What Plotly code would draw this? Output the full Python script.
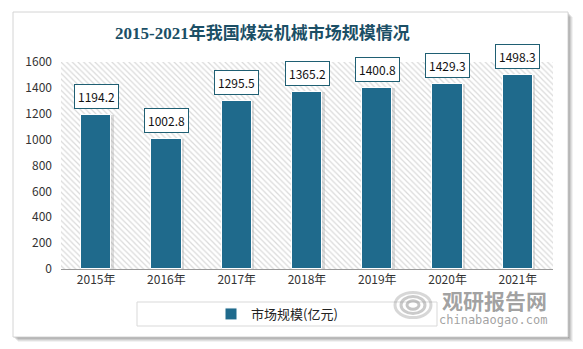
import plotly.graph_objects as go

# Data
years = ["2015年", "2016年", "2017年", "2018年", "2019年", "2020年", "2021年"]
market_size = [1194.2, 1002.8, 1295.5, 1365.2, 1400.8, 1429.3, 1498.3]
y_ticks = [0, 200, 400, 600, 800, 1000, 1200, 1400, 1600]
series_name = "市场规模(亿元)"
title_text = "2015-2021年我国煤炭机械市场规模情况"

W, H = 583, 349
L, R, T, B = 61, 30, 62, 80
PW, PH = W - L - R, H - T - B

def px_x(px):
    return (px - L) / PW

def px_y(py):
    return (H - B - py) / PH

BAR = "#1F6A8C"
FONT = "Noto Sans CJK SC, DejaVu Sans, sans-serif"

fig = go.Figure()

# hatched backdrop across the plotting area
fig.add_trace(go.Bar(
    x=[years[3]], y=[y_ticks[-1]], width=[len(years)],
    marker=dict(color="white", line=dict(width=0),
                pattern=dict(shape="\\", fgcolor="#B5B5B5", bgcolor="white",
                             size=4, solidity=0.3)),
    hoverinfo="skip", showlegend=False,
))

# soft shadow to the lower right of each bar
fig.add_trace(go.Bar(
    x=years, y=market_size, width=0.45, offset=-0.2,
    marker=dict(color="rgba(160,160,160,0.35)", line=dict(width=0)),
    hoverinfo="skip", showlegend=False,
))

fig.add_trace(go.Bar(
    x=years, y=market_size, width=0.43, name=series_name,
    marker=dict(color=BAR, line=dict(color="white", width=1)),
))

annotations = []
# value boxes above bars
for yr, v in zip(years, market_size):
    annotations.append(dict(
        x=yr, y=v, text=f"{v:.1f}", showarrow=False, yanchor="bottom",
        yshift=6, font=dict(family=FONT, size=12, color="#111111"),
        bgcolor="white", bordercolor="#1F5F73", borderwidth=1, borderpad=3,
    ))

annotations += [
    dict(text=f"<b>{title_text}</b>", xref="paper", yref="paper",
         x=px_x(262), y=px_y(33), showarrow=False, xanchor="center", yanchor="middle",
         font=dict(family="Liberation Serif, Noto Sans CJK SC, serif", size=17, color="#1B4F66")),
    dict(text="<b>观研报告网</b>", xref="paper", yref="paper",
         x=px_x(494), y=px_y(300), showarrow=False, xanchor="center", yanchor="middle",
         font=dict(family=FONT, size=21, color="rgba(120,120,120,0.7)")),
    dict(text="chinabaogao.com", xref="paper", yref="paper",
         x=px_x(493), y=px_y(320), showarrow=False, xanchor="center", yanchor="middle",
         font=dict(family="DejaVu Sans Mono, monospace", size=12, color="rgba(120,120,120,0.7)")),
]

shapes = []
# card shadow
for i, a in enumerate([0.10, 0.10, 0.09, 0.07, 0.05]):
    o = i + 1
    shapes.append(dict(type="rect", xref="paper", yref="paper", layer="below",
                       x0=px_x(13 + o), x1=px_x(568 + o), y0=px_y(337 + o), y1=px_y(12 + o),
                       line=dict(width=0), fillcolor=f"rgba(0,0,0,{a})"))
shapes.append(dict(type="rect", xref="paper", yref="paper", layer="below",
                   x0=px_x(13), x1=px_x(568), y0=px_y(337), y1=px_y(12),
                   line=dict(color="#D4D4D4", width=1), fillcolor="white"))
# legend frame
shapes.append(dict(type="rect", xref="paper", yref="paper", layer="below",
                   x0=px_x(137), x1=px_x(437), y0=px_y(326), y1=px_y(302),
                   line=dict(color="#D9D9D9", width=1), fillcolor="rgba(0,0,0,0)"))

# simple swirl emblem beside the watermark text
for r, a in [(18, 0.35), (12, 0.45), (6, 0.5)]:
    shapes.append(dict(type="circle", xref="paper", yref="paper",
                       x0=px_x(413 - r), x1=px_x(413 + r),
                       y0=px_y(305 + r * 0.7), y1=px_y(305 - r * 0.7),
                       line=dict(color=f"rgba(140,140,140,{a})", width=3)))

fig.update_layout(
    width=W, height=H, autosize=False,
    margin=dict(l=L, r=R, t=T, b=B),
    paper_bgcolor="white", plot_bgcolor="white",
    barmode="overlay", bargap=0,
    shapes=shapes, annotations=annotations,
    showlegend=True,
    legend=dict(orientation="h", x=px_x(277), y=px_y(314), xanchor="center", yanchor="middle",
                bgcolor="rgba(0,0,0,0)", borderwidth=0,
                font=dict(family=FONT, size=13, color="#222222"),
                itemwidth=30),
    font=dict(family=FONT),
)
fig.update_xaxes(
    type="category", categoryorder="array", categoryarray=years,
    showgrid=False, showline=True, linecolor="#9A9A9A", linewidth=1,
    ticks="", tickfont=dict(family=FONT, size=12, color="#333333"),
    range=[-0.5, 6.5], fixedrange=True,
)
fig.update_yaxes(
    range=[0, 1600], tickvals=y_ticks, showgrid=False, zeroline=False,
    showline=False, ticks="", ticklabelstandoff=8,
    tickfont=dict(family=FONT, size=12, color="#333333"),
)

fig.write_html("out.html")
